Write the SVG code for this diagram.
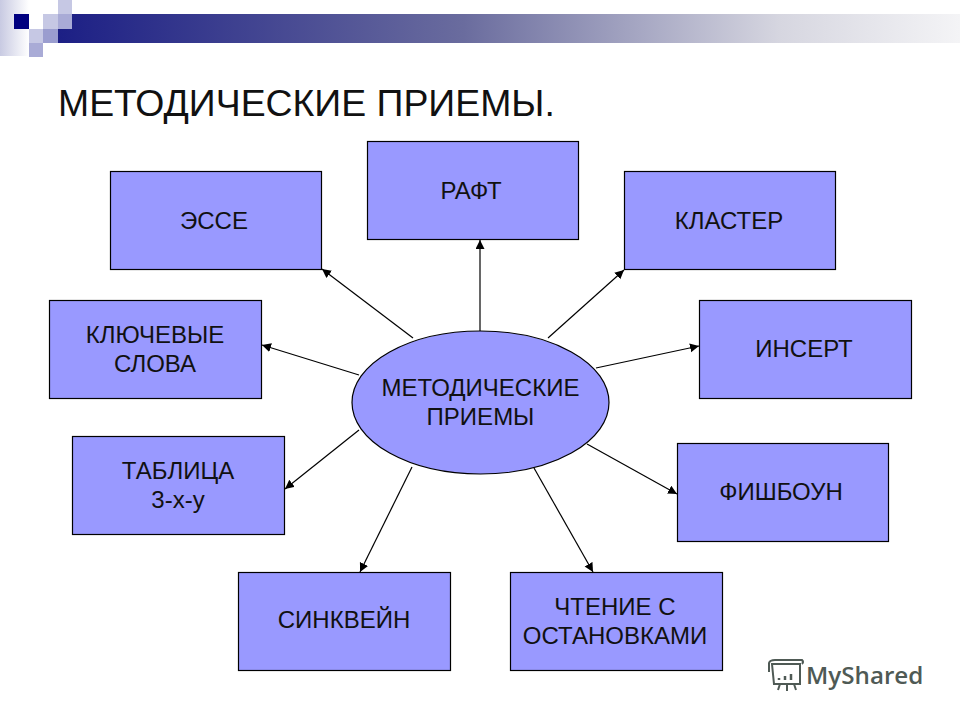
<svg xmlns="http://www.w3.org/2000/svg" width="960" height="720" viewBox="0 0 960 720">
<defs>
<linearGradient id="bar" x1="0" x2="1" y1="0" y2="0"><stop offset="0" stop-color="#1c1f85"/><stop offset="0.45" stop-color="#6a6c9e"/><stop offset="0.8" stop-color="#d6d6e0"/><stop offset="1" stop-color="#f4f4f6"/></linearGradient>
<linearGradient id="side" x1="0" x2="1" y1="0" y2="0"><stop offset="0" stop-color="#c8cae2"/><stop offset="1" stop-color="#ffffff"/></linearGradient>
<marker id="arr" markerUnits="userSpaceOnUse" markerWidth="10" markerHeight="10" refX="9" refY="4.5" orient="auto"><path d="M0 0L9 4.5L0 9z" fill="#000"/></marker>
</defs>
<style>
.box{fill:#9999ff;stroke:#000;stroke-width:1.2}
.t{font-family:"Liberation Sans",Arial,sans-serif;font-size:24px;fill:#111;text-anchor:middle}
.c line{stroke:#000;stroke-width:1.2;marker-end:url(#arr)}
</style>
<rect width="960" height="720" fill="#fff"/>
<g id="decor">
<rect x="0" y="0" width="29" height="56" fill="url(#side)"/>
<rect x="58" y="14" width="902" height="29" fill="url(#bar)"/>
<rect x="14" y="14" width="15" height="15" fill="#000080"/>
<rect x="43" y="14" width="15" height="15" fill="#c6c8e4"/>
<rect x="58" y="0" width="14" height="14" fill="#c6c8e4"/>
<rect x="58" y="14" width="14" height="15" fill="#a9abd6"/>
<rect x="29" y="29" width="14" height="14" fill="#c6c8e4"/>
<rect x="43" y="29" width="15" height="14" fill="#9a9dcf"/>
<rect x="29" y="43" width="14" height="14" fill="#a9abd6"/>
</g>
<text x="58" y="116" font-family="'Liberation Sans',Arial,sans-serif" font-size="37.400" fill="#111">МЕТОДИЧЕСКИЕ ПРИЕМЫ.</text>
<g id="connectors" class="c">
<line x1="480" y1="331" x2="480" y2="240"/>
<line x1="413" y1="338" x2="322" y2="269"/>
<line x1="548" y1="338" x2="624" y2="270"/>
<line x1="359" y1="375" x2="262" y2="345"/>
<line x1="596" y1="368" x2="699" y2="346"/>
<line x1="359" y1="430" x2="285" y2="489"/>
<line x1="587" y1="444" x2="677" y2="494"/>
<line x1="412" y1="467" x2="360" y2="572"/>
<line x1="534" y1="468" x2="593" y2="572"/>
</g>
<g id="n-center"><ellipse class="box" cx="480.500" cy="402.500" rx="128.500" ry="71.500"/><text class="t" x="480.500" y="396">МЕТОДИЧЕСКИЕ</text><text class="t" x="480.500" y="425">ПРИЕМЫ</text></g>
<g id="n-raft"><rect class="box" x="367.500" y="141.500" width="211" height="98"/><text class="t" x="471" y="199">РАФТ</text></g>
<g id="n-esse"><rect class="box" x="110.500" y="171.500" width="211" height="98"/><text class="t" x="214" y="229">ЭССЕ</text></g>
<g id="n-klaster"><rect class="box" x="624.500" y="171.500" width="211" height="98"/><text class="t" x="729" y="229">КЛАСТЕР</text></g>
<g id="n-klyuch"><rect class="box" x="49.500" y="300.500" width="212" height="98"/><text class="t" x="155" y="343">КЛЮЧЕВЫЕ</text><text class="t" x="155" y="372">СЛОВА</text></g>
<g id="n-insert"><rect class="box" x="699.500" y="300.500" width="212" height="98"/><text class="t" x="804" y="357">ИНСЕРТ</text></g>
<g id="n-tablica"><rect class="box" x="72.500" y="436.500" width="212" height="98"/><text class="t" x="178" y="479">ТАБЛИЦА</text><text class="t" x="178" y="508">3-х-у</text></g>
<g id="n-fish"><rect class="box" x="677.500" y="443.500" width="211" height="98"/><text class="t" x="781" y="500">ФИШБОУН</text></g>
<g id="n-sink"><rect class="box" x="238.500" y="572.500" width="212" height="98"/><text class="t" x="344" y="628">СИНКВЕЙН</text></g>
<g id="n-chten"><rect class="box" x="510.500" y="572.500" width="212" height="98"/><text class="t" x="615" y="615">ЧТЕНИЕ С</text><text class="t" x="615" y="644">ОСТАНОВКАМИ</text></g>
<g id="logo" fill="none" stroke="#4f5a55" stroke-width="2">
<path d="M772 664h28v20h-26z"/><path d="M769 672v-9q1-3 6-3h27q2 2 0 4"/><path d="M778 690l2-6M787 691v-7M796 690l-2-6"/>
<path d="M779 680v-2M785 680v-4M791 680v-6" stroke-width="2.500"/>
<text x="806" y="684" font-family="'Open Sans','Noto Sans',sans-serif" font-size="24.200" font-weight="600" fill="#4f5a55" stroke="none">MyShared</text>
</g>
</svg>
